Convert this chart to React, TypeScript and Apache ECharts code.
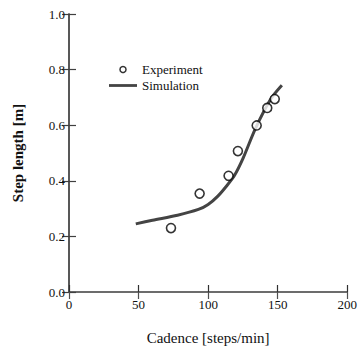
import React, { useEffect, useRef } from "react";
import * as echarts from "echarts";

const expCadence = [73.3, 93.9, 114.7, 121.4, 134.9, 142.5, 147.9];
const expStep = [0.23, 0.354, 0.418, 0.507, 0.599, 0.662, 0.694];

const simCadence = [48, 60, 78, 93, 100, 107, 114, 119, 125, 134, 145, 153];
const simStep = [0.245, 0.258, 0.276, 0.297, 0.315, 0.345, 0.386, 0.42, 0.48, 0.588, 0.694, 0.744];

const xTicks = [0, 50, 100, 150, 200];
const yTicks = [0.0, 0.2, 0.4, 0.6, 0.8, 1.0];

const FONT = "Liberation Serif";

export default function App() {
  const ref = useRef<HTMLDivElement>(null);
  useEffect(() => {
    if (!ref.current) return;
    const chart = echarts.init(ref.current, undefined, { renderer: "svg" });
    const tickStyle = (color: string) => ({
      show: true,
      inside: true,
      length: 7,
      lineStyle: { color, width: 1.2 },
    });
    chart.setOption({
      animation: false,
      backgroundColor: "#ffffff",
      grid: { left: 69, top: 14, width: 282, height: 281 },
      legend: {
        left: 109,
        top: 63,
        padding: 0,
        orient: "vertical",
        itemWidth: 28,
        itemHeight: 6,
        itemGap: 3,
        textStyle: { fontFamily: FONT, fontSize: 13, color: "#111" },
        data: [
          {
            name: "Experiment",
            icon: "circle",
            itemStyle: { color: "#ffffff", borderColor: "#000000", borderWidth: 1.5 },
          },
          {
            name: "Simulation",
            icon: "path://M0,0H30V3H0Z",
            itemStyle: { color: "#444444", borderWidth: 0 },
          },
        ],
      },
      xAxis: [
        {
          type: "value",
          min: xTicks[0],
          max: xTicks[xTicks.length - 1],
          interval: 50,
          position: "bottom",
          name: "Cadence [steps/min]",
          nameLocation: "middle",
          nameGap: 38,
          nameTextStyle: { fontFamily: FONT, fontSize: 15, color: "#111" },
          axisLine: { lineStyle: { color: "#303030", width: 1.5 } },
          axisTick: tickStyle("#303030"),
          axisLabel: { fontFamily: FONT, fontSize: 13, color: "#111", margin: 6 },
          splitLine: { show: false },
        },
        {
          type: "value",
          min: xTicks[0],
          max: xTicks[xTicks.length - 1],
          interval: 50,
          position: "top",
          axisLine: { lineStyle: { color: "#707070", width: 1.5 } },
          axisTick: tickStyle("#505050"),
          axisLabel: { show: false },
          splitLine: { show: false },
        },
      ],
      yAxis: [
        {
          type: "value",
          min: yTicks[0],
          max: yTicks[yTicks.length - 1],
          interval: 0.2,
          position: "left",
          name: "Step length [m]",
          nameLocation: "middle",
          nameGap: 44,
          nameTextStyle: { fontFamily: FONT, fontSize: 15, fontWeight: "bold", color: "#111" },
          axisLine: { lineStyle: { color: "#808080", width: 1.5 } },
          axisTick: tickStyle("#404040"),
          axisLabel: {
            fontFamily: FONT,
            fontSize: 13,
            color: "#111",
            margin: 4,
            formatter: (v: number) => v.toFixed(1),
          },
          splitLine: { show: false },
        },
        {
          type: "value",
          min: yTicks[0],
          max: yTicks[yTicks.length - 1],
          interval: 0.2,
          position: "right",
          axisLine: { lineStyle: { color: "#404040", width: 1.5 } },
          axisTick: tickStyle("#404040"),
          axisLabel: { show: false },
          splitLine: { show: false },
        },
      ],
      series: [
        {
          name: "Simulation",
          type: "line",
          xAxisIndex: 0,
          yAxisIndex: 0,
          smooth: 0.3,
          symbol: "none",
          lineStyle: { color: "#444444", width: 3 },
          itemStyle: { color: "#444444" },
          data: simCadence.map((c, i) => [c, simStep[i]]),
          z: 2,
        },
        {
          name: "Experiment",
          type: "scatter",
          xAxisIndex: 0,
          yAxisIndex: 0,
          symbol: "circle",
          symbolSize: 9,
          itemStyle: { color: "#ffffff", borderColor: "#000000", borderWidth: 1.6 },
          data: expCadence.map((c, i) => [c, expStep[i]]),
          z: 3,
        },
      ],
    });
    return () => chart.dispose();
  }, []);
  return (
    <div
      ref={ref}
      style={{ position: "fixed", left: 0, top: 0, width: 360, height: 350, background: "#fff" }}
    />
  );
}
